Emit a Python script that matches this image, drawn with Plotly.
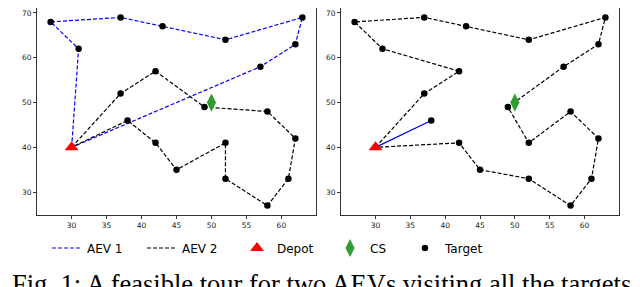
import plotly.graph_objects as go

# ---- data ----
target_x = [27, 37, 43, 52, 63, 62, 57, 31, 37, 42, 49, 38, 42, 45, 52, 52, 58, 61, 62, 58]
target_y = [68, 69, 67, 64, 69, 63, 58, 62, 52, 57, 49, 46, 41, 35, 41, 33, 27, 33, 42, 48]
depot_x = [30]
depot_y = [40]
cs_x = [50]
cs_y = [50]

# left panel routes
left_aev1_x = [30, 31, 27, 37, 43, 52, 63, 62, 57, 30]
left_aev1_y = [40, 62, 68, 69, 67, 64, 69, 63, 58, 40]
left_aev2_x = [30, 37, 42, 49, 58, 62, 61, 58, 52, 52, 45, 42, 38, 30]
left_aev2_y = [40, 52, 57, 49, 48, 42, 33, 27, 33, 41, 35, 41, 46, 40]

# right panel routes
right_aev1_x = [30, 38]
right_aev1_y = [40, 46]
right_aev2_x = [30, 37, 42, 31, 27, 37, 43, 52, 63, 62, 57, 50, 49, 52, 58, 62, 61, 58, 52, 45, 42, 30]
right_aev2_y = [40, 52, 57, 62, 68, 69, 67, 64, 69, 63, 58, 50, 49, 41, 48, 42, 33, 27, 33, 35, 41, 40]

x_ticks = [30, 35, 40, 45, 50, 55, 60]
y_ticks = [30, 40, 50, 60, 70]
caption = "Fig. 1: A feasible tour for two AEVs visiting all the targets"

# ---- figure ----
W, H = 640, 287
ML, MR, MT, MB = 29, 29, 0, 80
PW = W - ML - MR
PH = H - MT - MB

def px_x(p):
    return (p - ML) / PW

def px_y(p):
    return (H - MB - p) / PH

fig = go.Figure()
DASH = "4px,2px"
GREEN = "#2e9e2e"

for col, (a1x, a1y, a1dash, a2x, a2y) in enumerate([
        (left_aev1_x, left_aev1_y, DASH, left_aev2_x, left_aev2_y),
        (right_aev1_x, right_aev1_y, "solid", right_aev2_x, right_aev2_y)]):
    xa = "x" if col == 0 else "x2"
    ya = "y" if col == 0 else "y2"
    show = col == 0
    fig.add_trace(go.Scatter(x=a1x, y=a1y, mode="lines", name="AEV 1",
                             line=dict(color="#0000ff", width=1.2, dash=a1dash),
                             xaxis=xa, yaxis=ya, showlegend=show, legend="legend"))
    fig.add_trace(go.Scatter(x=a2x, y=a2y, mode="lines", name="AEV 2",
                             line=dict(color="black", width=1.2, dash=DASH),
                             xaxis=xa, yaxis=ya, showlegend=show, legend="legend2"))
    fig.add_trace(go.Scatter(x=target_x, y=target_y, mode="markers", name="Target",
                             marker=dict(color="black", size=6.5, symbol="circle"),
                             xaxis=xa, yaxis=ya, showlegend=show, legend="legend5"))
    fig.add_trace(go.Scatter(x=cs_x, y=cs_y, mode="markers", name="CS",
                             marker=dict(color=GREEN, size=13, symbol="diamond-tall"),
                             xaxis=xa, yaxis=ya, showlegend=show, legend="legend4"))
    fig.add_trace(go.Scatter(x=depot_x, y=depot_y, mode="markers", name="Depot",
                             marker=dict(color="red", size=12, symbol="triangle-up"),
                             xaxis=xa, yaxis=ya, showlegend=show, legend="legend3"))

axis_common = dict(range=[25.05, 64.95], tickvals=x_ticks, ticks="outside", ticklen=3,
                   tickcolor="#333", tickwidth=1, showline=True, linecolor="#333",
                   linewidth=1, mirror=True, showgrid=False, zeroline=False,
                   tickfont=dict(family="DejaVu Sans", size=7.5, color="#222"))
yaxis_common = dict(axis_common)
yaxis_common.update(range=[24.9, 71.1], tickvals=y_ticks)

left_dom = [0, px_x(308)]
right_dom = [px_x(333), 1]

legend_base = dict(orientation="h", yanchor="middle", y=px_y(240), xanchor="left",
                   bgcolor="rgba(0,0,0,0)", borderwidth=0, itemwidth=30,
                   font=dict(family="DejaVu Sans", size=12, color="black"))

def leg(text_px):
    d = dict(legend_base)
    d["x"] = px_x(text_px - 43)
    return d

fig.update_layout(
    width=W, height=H,
    margin=dict(l=ML, r=MR, t=MT, b=MB),
    paper_bgcolor="white", plot_bgcolor="white",
    xaxis=dict(axis_common, domain=left_dom, anchor="y"),
    yaxis=dict(yaxis_common, domain=[0, 1], anchor="x"),
    xaxis2=dict(axis_common, domain=right_dom, anchor="y2"),
    yaxis2=dict(yaxis_common, domain=[0, 1], anchor="x2"),
    legend=leg(82),
    legend2=leg(177),
    legend3=leg(272),
    legend4=leg(365),
    legend5=leg(440),
    annotations=[dict(text=caption, xref="paper", yref="paper",
                      x=px_x(2), y=px_y(293), xanchor="left", yanchor="bottom",
                      showarrow=False,
                      font=dict(family="Liberation Serif", size=26.5, color="black"))],
)

fig.write_html("out.html")
